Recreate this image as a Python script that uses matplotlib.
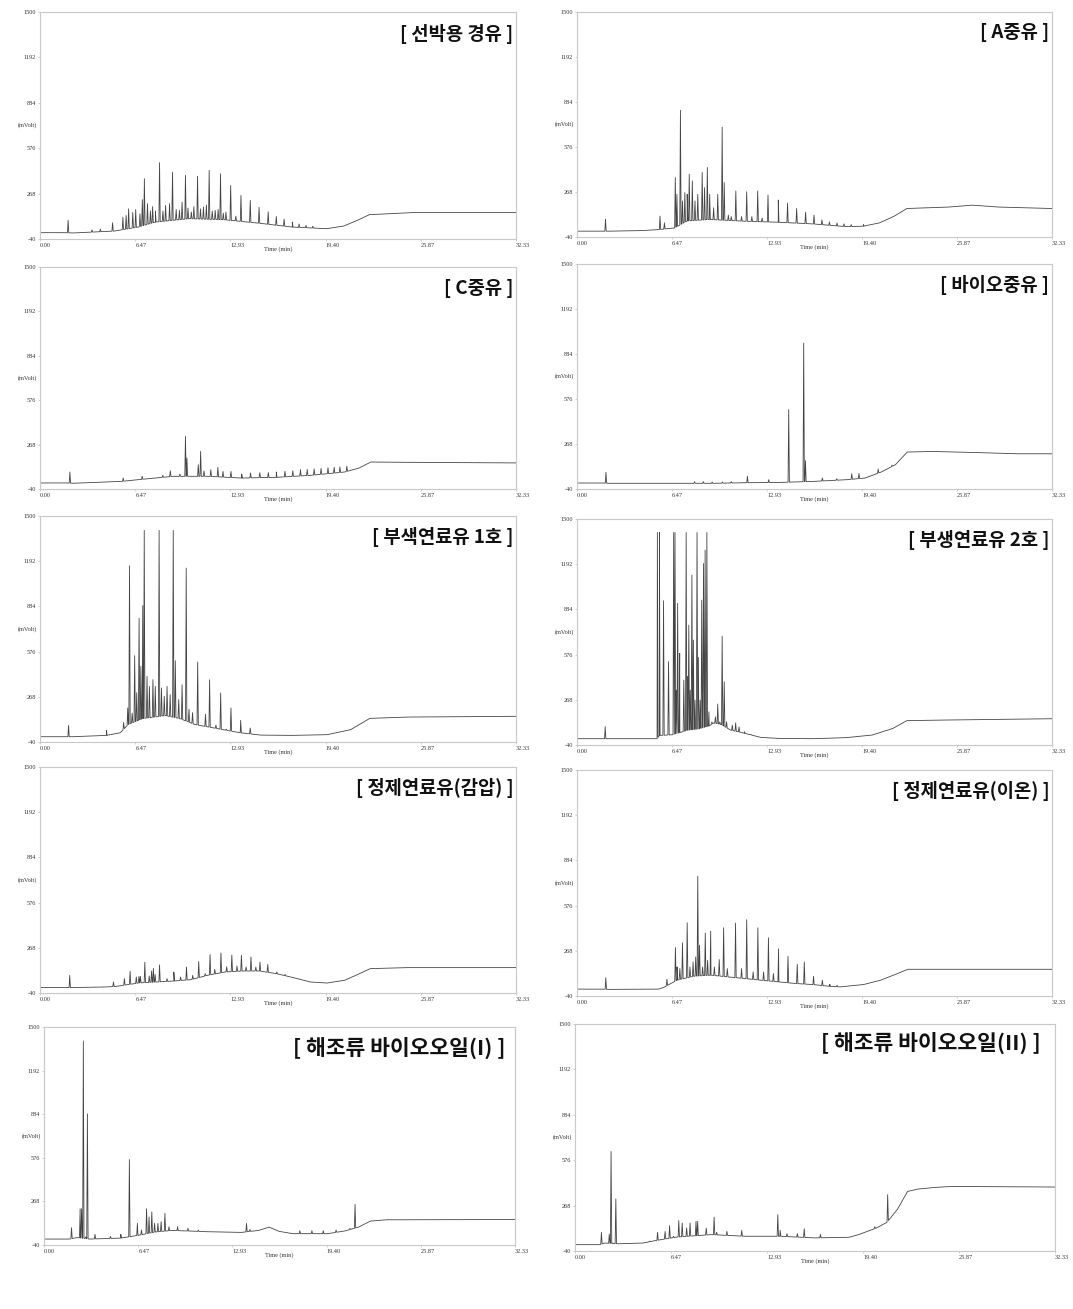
import numpy as np
import matplotlib
matplotlib.use('Agg')
import matplotlib.pyplot as plt

# 크로마토그램 10개 (5행 x 2열)
plt.rcParams['font.family'] = ['Noto Sans CJK KR', 'DejaVu Sans']

W, H = 1073, 1309
fig = plt.figure(figsize=(W / 100, H / 100), dpi=100)

y_ticks = [-40, 268, 576, 884, 1192, 1500]
x_ticks = [0.00, 6.47, 12.93, 19.40, 25.87, 32.33]
x_tick_labels = ['0.00', '6.47', '12.93', '19.40', '25.87', '32.33']

titles = ['[ 선박용 경유 ]', '[ A중유 ]', '[ C중유 ]', '[ 바이오중유 ]',
          '[ 부색연료유 1호 ]', '[ 부생연료유 2호 ]', '[ 정제연료유(감압) ]',
          '[ 정제연료유(이온) ]', '[ 해조류 바이오오일(I) ]', '[ 해조류 바이오오일(II) ]']

# ---- 1 선박용 경유
p1_base_t = [0, 1.56, 2.26, 5.05, 6.67, 7.84, 10.16, 12.49, 14.81, 17.14, 19.47, 20.63, 21.56, 22.37, 25.28, 32.33]
p1_base_v = [3, 3, 1, 14, 41, 75, 98, 91, 68, 41, 30, 48, 87, 125, 139, 139]
p1_peak_t = [1.91, 3.53, 4.1, 4.93, 5.63, 5.85, 6.02, 6.3, 6.5, 6.79, 6.95, 7.09, 7.3, 7.5, 7.65, 7.84,
             8.12, 8.35, 8.53, 8.8, 9.0, 9.25, 9.47, 9.65, 9.88, 10.05, 10.28, 10.45, 10.7, 10.9, 11.1,
             11.3, 11.49, 11.7, 11.9, 12.1, 12.26, 12.45, 12.63, 12.95, 13.3, 13.65, 14.28, 14.88,
             15.5, 16.05, 16.58, 17.14, 17.6, 18.07, 18.53]
p1_peak_v = [87, 22, 27, 70, 108, 120, 165, 140, 160, 131, 227, 369, 200, 150, 180, 150,
             478, 150, 188, 200, 413, 160, 154, 210, 392, 170, 143, 180, 386, 165, 177,
             190, 426, 150, 154, 160, 403, 135, 143, 323, 115, 256, 222, 175,
             144, 113, 95, 75, 62, 52, 47]

# ---- 2 A중유
p2_base_t = [0, 1.7, 2.2, 4.44, 5.6, 6.64, 7.5, 9.0, 11.4, 13.7, 16.0, 18.3, 19.5, 20.6, 21.6, 22.45, 25.3, 26.9, 28.7, 32.33]
p2_base_v = [0, 0, 0, 4, 11, 22, 70, 80, 68, 61, 50, 31, 34, 57, 103, 155, 165, 178, 165, 155]
p2_peak_t = [1.94, 5.65, 5.95, 6.69, 6.8, 7.04, 7.18, 7.34, 7.5, 7.64, 7.85, 8.03, 8.22, 8.52, 8.68,
             8.87, 9.03, 9.3, 9.58, 9.88, 10.02, 10.3, 10.5, 10.81, 11.2, 11.55, 11.9, 12.3, 12.6,
             13.0, 13.7, 14.33, 14.95, 15.56, 16.13, 16.67, 17.18, 17.7, 18.17, 18.66, 19.5]
p2_peak_v = [82, 103, 57, 367, 252, 827, 207, 264, 252, 390, 344, 207, 252, 402, 298,
             436, 252, 160, 252, 712, 333, 110, 100, 275, 100, 270, 100, 275, 90,
             247, 213, 192, 155, 130, 110, 77, 63, 56, 50, 45, 45]

# ---- 3 C중유
p3_base_t = [0, 1.8, 2.3, 5.54, 6.7, 9.04, 11.4, 13.7, 16.05, 18.4, 20.7, 21.66, 22.47, 25.0, 32.33]
p3_base_v = [2, 2, 0, 13, 25, 48, 48, 36, 41, 55, 78, 105, 147, 145, 141]
p3_peak_t = [2.03, 5.65, 6.94, 7.64, 8.34, 8.85, 9.5, 9.88, 9.98, 10.75, 10.91, 11.14, 11.6, 12.08,
             12.43, 12.97, 13.7, 14.3, 14.93, 15.51, 16.05, 16.64, 17.17, 17.69, 18.15, 18.62,
             19.09, 19.56, 19.98, 20.37, 20.84]
p3_peak_v = [78, 36, 48, 36, 55, 87, 64, 325, 175, 129, 221, 85, 94, 110,
             82, 82, 64, 71, 73, 74, 78, 83, 87, 94, 96, 99,
             103, 107, 110, 113, 118]

# ---- 4 바이오중유
p4_base_t = [0, 1.8, 2.2, 9.3, 11.47, 13.8, 16.1, 18.4, 19.6, 20.7, 21.67, 22.48, 24.2, 27.7, 30.0, 32.33]
p4_base_v = [1, 1, -1, -1, 3, 5, 12, 24, 35, 76, 126, 213, 217, 208, 201, 201]
p4_peak_t = [1.97, 8.0, 8.6, 9.2, 9.9, 10.5, 11.6, 13.05, 14.41, 15.43, 15.55, 16.7, 17.68, 18.7, 19.19, 20.5, 21.44]
p4_peak_v = [74, 10, 10, 8, 8, 10, 47, 24, 503, 959, 154, 35, 30, 65, 66, 96, 123]

# ---- 5 부색연료유 1호
p5_base_t = [0, 1.7, 2.2, 4.51, 5.45, 6.0, 7.0, 8.5, 9.5, 10.5, 11.3, 13.6, 15.0, 17.1, 19.5, 21.1, 22.4, 25.0, 32.33]
p5_base_v = [-4, -4, -4, 5, 23, 80, 120, 140, 120, 80, 65, 23, 7, 5, 10, 44, 121, 130, 135]
p5_peak_t = [1.94, 4.51, 5.68, 5.96, 6.08, 6.26, 6.43, 6.57, 6.73, 6.85, 6.98, 7.08, 7.27, 7.43, 7.67,
             7.83, 8.09, 8.25, 8.44, 8.63, 8.84, 9.05, 9.19, 9.42, 9.65, 9.93, 10.12, 10.36, 10.71,
             11.24, 11.52, 11.95, 12.27, 12.65, 12.97, 13.63, 14.28]
p5_peak_v = [73, 40, 93, 192, 1161, 157, 548, 296, 804, 475, 890, 1402, 407, 339, 385,
             339, 1402, 328, 271, 339, 283, 1402, 514, 249, 350, 1145, 183, 160, 505,
             149, 384, 75, 294, 47, 192, 108, 55]

# ---- 6 부생연료유 2호
p6_base_t = [0, 1.7, 2.2, 5.45, 5.6, 6.5, 7.0, 7.5, 8.3, 9.0, 9.3, 9.8, 10.45, 11.4, 12.5, 13.7, 16.0, 18.3, 20.1, 21.5, 22.45, 25.0, 32.33]
p6_base_v = [3, 3, 3, 3, 25, 30, 45, 60, 70, 90, 110, 100, 62, 40, 12, 5, 3, 10, 28, 73, 126, 130, 139]
p6_peak_t = [1.92, 5.47, 5.61, 5.89, 6.23, 6.58, 6.67, 6.76, 6.85, 6.99, 7.27, 7.43, 7.52, 7.61, 7.71,
             7.82, 7.92, 8.03, 8.17, 8.26, 8.38, 8.49, 8.61, 8.72, 8.84, 8.98, 9.18, 9.42, 9.58,
             9.72, 9.88, 10.02, 10.18, 10.57, 10.8, 11.03, 11.4, 11.84]
p6_peak_v = [85, 1408, 1408, 943, 528, 1408, 1408, 334, 925, 584, 402, 1408, 428, 777, 334,
             1118, 675, 266, 1408, 557, 266, 947, 1197, 1288, 1408, 186, 118, 152, 239,
             118, 702, 391, 118, 95, 111, 84, 50, 32]

# ---- 7 정제연료유(감압)
p7_base_t = [0, 1.8, 2.2, 4.45, 5.15, 6.77, 7.93, 9.09, 10.25, 11.4, 12.57, 13.73, 14.9, 16.05, 17.2, 18.37, 19.5, 20.7, 21.6, 22.43, 25.0, 32.33]
p7_base_v = [-3, -3, -3, 1, 5, 29, 35, 42, 51, 81, 103, 110, 110, 92, 65, 35, 28, 47, 87, 126, 133, 133]
p7_peak_t = [2.02, 4.99, 5.73, 6.12, 6.54, 6.72, 6.82, 7.12, 7.42, 7.58, 7.7, 7.82, 8.12, 8.63, 9.09,
             9.55, 9.95, 10.37, 10.78, 11.22, 11.55, 11.87, 12.29, 12.68, 13.03, 13.38, 13.68,
             14.0, 14.33, 14.66, 14.94, 15.47, 16.09, 16.65]
p7_peak_v = [80, 35, 58, 108, 69, 73, 73, 170, 76, 110, 128, 87, 151, 58, 103,
             69, 137, 80, 174, 92, 222, 121, 233, 139, 219, 144, 217,
             137, 206, 137, 171, 155, 103, 87]

# ---- 8 정제연료유(이온)
p8_base_t = [0, 1.8, 2.2, 5.54, 5.89, 6.81, 7.97, 9.12, 10.28, 11.43, 12.59, 13.74, 14.9, 16.05, 17.2, 17.9, 19.5, 20.67, 21.82, 22.52, 32.33]
p8_base_v = [7, 7, 5, 7, 18, 68, 95, 102, 90, 79, 67, 56, 45, 38, 26, 22, 38, 68, 113, 142, 142]
p8_peak_t = [1.96, 6.12, 6.7, 6.81, 7.0, 7.18, 7.5, 7.69, 7.9, 8.08, 8.22, 8.34, 8.55, 8.73, 8.89,
             9.1, 9.35, 9.68, 9.98, 10.23, 10.79, 11.2, 11.55, 11.99, 12.31, 12.7, 13.03, 13.37,
             13.72, 14.36, 14.99, 15.47, 16.1, 16.7, 17.2, 17.7]
p8_peak_v = [85, 74, 290, 158, 147, 323, 459, 158, 192, 226, 776, 306, 158, 389, 203,
             403, 158, 208, 425, 147, 457, 147, 480, 124, 425, 124, 357, 113,
             282, 230, 176, 192, 94, 67, 40, 33]

# ---- 9 해조류 바이오오일(I)
p9_base_t = [0, 1.73, 2.25, 2.5, 3.14, 4.09, 5.27, 6.45, 7.64, 8.82, 11.18, 13.55, 14.73, 15.44, 16.15, 17.1, 19.46, 20.64, 21.58, 22.41, 23.5, 32.33]
p9_base_v = [2, 2, 12, 10, 2, 5, 9, 28, 52, 63, 54, 49, 63, 86, 56, 40, 40, 59, 86, 129, 138, 140]
p9_peak_t = [1.89, 2.48, 2.58, 2.7, 2.86, 2.98, 3.5, 4.56, 5.27, 5.86, 6.41, 6.69, 7.04, 7.21, 7.4,
             7.59, 7.82, 8.04, 8.3, 8.58, 9.17, 9.88, 10.59, 13.9, 14.14, 17.56, 18.39, 19.17,
             20.05, 21.0, 21.35]
p9_peak_v = [82, 216, 216, 1402, 17, 886, 35, 21, 35, 563, 113, 66, 216, 157, 193,
             113, 113, 125, 184, 89, 89, 78, 66, 113, 70, 61, 61, 61,
             66, 78, 247]

# ---- 10 해조류 바이오오일(II)
p10_base_t = [0, 1.67, 2.0, 2.94, 4.56, 5.49, 6.88, 9.19, 11.5, 13.8, 16.1, 18.45, 19.1, 20.3, 21.0, 21.7, 22.4, 23.08, 24.2, 25.4, 32.33]
p10_base_v = [3, 3, 14, 9, 14, 32, 55, 71, 60, 60, 49, 53, 71, 116, 154, 240, 364, 380, 391, 398, 394]
p10_peak_t = [1.78, 2.31, 2.43, 2.55, 2.75, 5.02, 5.56, 6.07, 6.37, 6.64, 6.99, 7.22, 7.52, 7.75, 8.15,
              8.26, 8.84, 9.37, 9.54, 10.23, 11.23, 13.66, 13.82, 14.28, 14.98, 15.44, 16.53,
              20.19, 21.06]
p10_peak_v = [87, 75, 635, 14, 313, 27, 87, 93, 132, 60, 166, 150, 116, 150, 161,
              161, 116, 190, 87, 93, 100, 206, 100, 78, 78, 111, 73,
              125, 342]

panels = [
    (p1_base_t, p1_base_v, p1_peak_t, p1_peak_v),
    (p2_base_t, p2_base_v, p2_peak_t, p2_peak_v),
    (p3_base_t, p3_base_v, p3_peak_t, p3_peak_v),
    (p4_base_t, p4_base_v, p4_peak_t, p4_peak_v),
    (p5_base_t, p5_base_v, p5_peak_t, p5_peak_v),
    (p6_base_t, p6_base_v, p6_peak_t, p6_peak_v),
    (p7_base_t, p7_base_v, p7_peak_t, p7_peak_v),
    (p8_base_t, p8_base_v, p8_peak_t, p8_peak_v),
    (p9_base_t, p9_base_v, p9_peak_t, p9_peak_v),
    (p10_base_t, p10_base_v, p10_peak_t, p10_peak_v),
]

# 패널 위치 (px): x0, x1, top, bottom
boxes = [
    (40, 516, 12, 239), (577, 1052, 12, 237),
    (40, 516, 267, 489), (577, 1052, 264, 489),
    (40, 516, 516, 742), (577, 1052, 519, 745),
    (40, 516, 767, 993), (577, 1052, 770, 996),
    (44, 515, 1027, 1245), (575, 1055, 1024, 1251),
]
# 제목 위치 (axes 좌표), 글자 크기
title_pos = [(0.994, 0.905, 13.5), (0.993, 0.91, 13.5), (0.994, 0.905, 13.5), (0.993, 0.905, 13.5),
             (0.994, 0.905, 13.5), (0.994, 0.905, 13.5), (0.994, 0.905, 13.5), (0.994, 0.905, 13.5),
             (0.980, 0.905, 15.5), (0.970, 0.915, 15.5)]


def build_trace(bt, bv, pt, pv, w=0.045):
    ts = list(bt)
    vs = list(bv)
    for t, h in zip(pt, pv):
        for dt in (-w, w):
            ts.append(t + dt)
            vs.append(float(np.interp(t + dt, bt, bv)))
        ts.append(t)
        vs.append(h)
    ts = np.array(ts)
    vs = np.array(vs)
    order = np.argsort(ts, kind='stable')
    return ts[order], vs[order]


tick_font = dict(family='Liberation Serif', size=4.5, color='#333333')

for i, (bt, bv, pt, pv) in enumerate(panels):
    x0, x1, top, bottom = boxes[i]
    ax = fig.add_axes([x0 / W, 1 - bottom / H, (x1 - x0) / W, (bottom - top) / H])
    ts, vs = build_trace(bt, bv, pt, pv)
    ax.plot(ts, vs, color='#454545', linewidth=0.6)
    ax.set_xlim(0, 32.33)
    ax.set_ylim(-40, 1500)

    for sp in ax.spines.values():
        sp.set_color('#c8c8c8')
        sp.set_linewidth(0.8)

    ax.set_xticks(x_ticks)
    ax.set_xticklabels(x_tick_labels, ha='left', fontdict=tick_font)
    ax.set_yticks(y_ticks)
    ax.set_yticklabels([str(v) for v in y_ticks], fontdict=tick_font)
    ax.tick_params(length=1.5, width=0.4, color='#aaaaaa', pad=1.5)

    ax.text(-0.006, 730, '(mVolt)', transform=ax.get_yaxis_transform(),
            ha='right', va='center', fontdict=tick_font)
    ax.text(0.5, -0.032, 'Time (min)', transform=ax.transAxes,
            ha='center', va='top', fontdict=tick_font)

    tx, ty, fs = title_pos[i]
    ax.text(tx, ty, titles[i], transform=ax.transAxes, ha='right', va='center',
            fontsize=fs, fontweight='bold', color='#111111',
            family=['Noto Sans CJK KR', 'DejaVu Sans'],
            bbox=dict(facecolor='white', edgecolor='none', pad=1.0))

plt.savefig('out.png', dpi=100)
